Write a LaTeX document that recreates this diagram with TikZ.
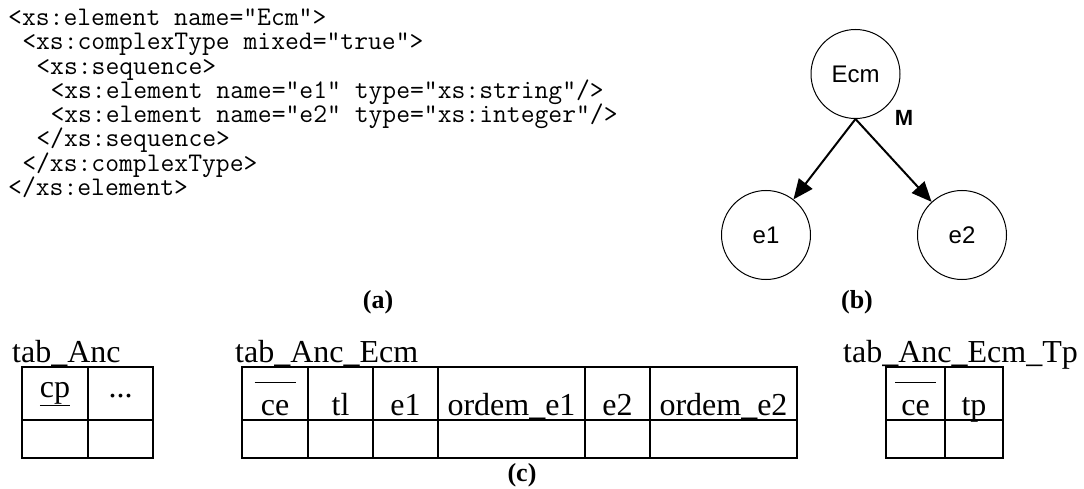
\documentclass[tikz,border=0pt]{standalone}
\usepackage{fontspec}
\setmainfont{Liberation Serif}
\newfontfamily\sansf{Liberation Sans}
\usetikzlibrary{arrows.meta,calc}

\tikzset{
  codeline/.style={anchor=base west, inner sep=0pt, font=\ttfamily\fontsize{26.86}{30}\selectfont},
  tabtitle/.style={anchor=base west, inner sep=0pt, font=\fontsize{32}{38}\selectfont},
  celltxt/.style={anchor=base, inner sep=0pt, font=\fontsize{32}{38}\selectfont},
  grid/.style={line width=2pt},
  elem/.style={circle, draw, line width=1pt, minimum size=89pt, inner sep=0pt,
               font=\sansf\fontsize{24}{28}\selectfont},
  edge/.style={line width=2pt, -{Triangle[length=20pt,width=17pt]}},
  caption/.style={font=\bfseries\fontsize{26}{30}\selectfont, inner sep=0pt},
  keybar/.style={line width=0.8pt}
}

\begin{document}
\begin{tikzpicture}[x=1pt,y=-1pt]
\useasboundingbox (0,0) rectangle (1084,489);

% (a) schema fragment, one node per source line
\def\ch{14.1}
\node[codeline] (c1) at (8,25.5) {<xs:element name="Ecm">};
\node[codeline] (c2) at ({8+1*\ch},49.8) {<xs:complexType mixed="true">};
\node[codeline] (c3) at ({8+2*\ch},74.1) {<xs:sequence>};
\node[codeline] (c4) at ({8+3*\ch},98.4) {<xs:element name="e1" type="xs:string"/>};
\node[codeline] (c5) at ({8+3*\ch},122.7) {<xs:element name="e2" type="xs:integer"/>};
\node[codeline] (c6) at ({8+2*\ch},147.0) {</xs:sequence>};
\node[codeline] (c7) at ({8+1*\ch},171.3) {</xs:complexType>};
\node[codeline] (c8) at (8,195.6) {</xs:element>};
\node[caption] (capa) at (378,302) {(a)};

% (b) element tree
\node[elem] (Ecm) at (855.5,74) {Ecm};
\node[elem] (e1) at (766,235) {e1};
\node[elem] (e2) at (962,235) {e2};
\draw[edge] (Ecm.south) -- (e1);
\draw[edge] (Ecm.south) -- (e2);
\node[font=\sansf\bfseries\fontsize{22}{26}\selectfont, inner sep=0pt] (M) at (904,118) {M};
\node[caption] (capb) at (857,302) {(b)};

% (c) relational tables
% tab_Anc
\node[tabtitle] (tA) at (12,362.5) {tab\_Anc};
\draw[grid] (22,367) rectangle (153,458);
\draw[grid] (22,420) -- (153,420);
\draw[grid] (88,367) -- (88,458);
\node[celltxt] (cp) at (55,397) {\underline{cp}};
\node[celltxt] (dots) at (120.5,397) {...};

% tab_Anc_Ecm
\node[tabtitle] (tAE) at (235,362.5) {tab\_Anc\_Ecm};
\draw[grid] (242,367) rectangle (797,458);
\draw[grid] (242,420) -- (797,420);
\foreach \xv in {308,373,438,585,650} \draw[grid] (\xv,367) -- (\xv,458);
\node[celltxt] (ceA) at (275,415.5) {ce};
\node[celltxt] (tl) at (340.5,415.5) {tl};
\node[celltxt] (ea) at (405.5,415.5) {e1};
\node[celltxt] (oa) at (511.5,415.5) {ordem\_e1};
\node[celltxt] (eb) at (617.5,415.5) {e2};
\node[celltxt] (ob) at (723.5,415.5) {ordem\_e2};
\draw[keybar] ($(ceA.base)+(-20.5,-33.5)$) -- ++(41,0);
\node[caption] (capc) at (522,475) {(c)};

% tab_Anc_Ecm_Tp
\node[tabtitle] (tAET) at (843,362.5) {tab\_Anc\_Ecm\_Tp};
\draw[grid] (886,367) rectangle (1003,458);
\draw[grid] (886,420) -- (1003,420);
\draw[grid] (945,367) -- (945,458);
\node[celltxt] (ceB) at (915.5,415.5) {ce};
\node[celltxt] (tp) at (974,415.5) {tp};
\draw[keybar] ($(ceB.base)+(-20.5,-33.5)$) -- ++(41,0);
\end{tikzpicture}
\end{document}
